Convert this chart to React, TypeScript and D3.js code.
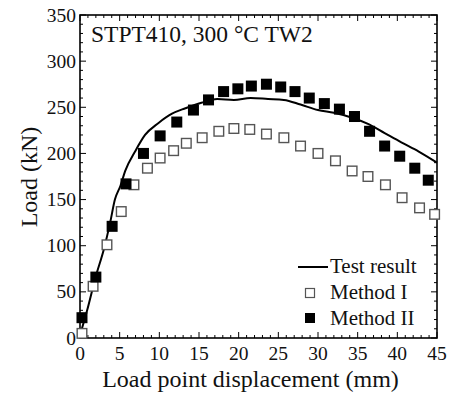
import React from "react";
import * as d3 from "d3";

const testX = [0, 0.9, 2.0, 3.0, 3.8, 4.4, 5.1, 5.7, 7.0, 8.2, 9.9, 11.6, 13.3, 15.3, 17.3, 19.4, 21.5, 23.7, 25.7, 27.8, 30.0, 32.0, 34.2, 36.3, 38.4, 40.5, 42.7, 45];
const testY = [3, 30, 67, 96, 125, 150, 165, 181, 203, 220, 233, 243, 249, 255, 259, 258, 260, 259, 258, 253, 247, 244, 239, 232, 222, 212, 202, 190];

const m1X = [0.25, 1.65, 3.4, 5.2, 6.8, 8.5, 10.1, 11.8, 13.4, 15.4, 17.5, 19.4, 21.4, 23.5, 25.7, 27.8, 30.0, 32.2, 34.3, 36.3, 38.5, 40.6, 42.8, 44.7];
const m1Y = [5, 56, 101, 137, 166, 184, 195, 203, 211, 217, 224, 227, 226, 221, 217, 208, 200, 192, 181, 175, 166, 152, 141, 134];

const m2X = [0.25, 2.0, 4.05, 5.8, 8.0, 10.1, 12.2, 14.3, 16.2, 18.1, 19.9, 21.6, 23.5, 25.3, 27.1, 28.9, 30.8, 32.7, 34.6, 36.5, 38.4, 40.3, 42.2, 43.9];
const m2Y = [22, 66, 121, 167, 200, 219, 234, 247, 258, 267, 270, 273, 275, 272, 267, 260, 254, 248, 240, 224, 208, 197, 184, 171];

const xTicks = [0, 5, 10, 15, 20, 25, 30, 35, 40, 45];
const yTicks = [0, 50, 100, 150, 200, 250, 300, 350];

const title = "STPT410, 300 °C TW2";
const xLabel = "Load point displacement (mm)";
const yLabel = "Load (kN)";
const legendLabels = ["Test result", "Method I", "Method II"];

export default function App() {
  const W = 454, H = 396;
  const L = 80, R = 437, T = 15, B = 338;
  const x = d3.scaleLinear().domain([0, 45]).range([L, R]);
  const y = d3.scaleLinear().domain([0, 350]).range([B, T]);
  const font = '"Liberation Serif", "DejaVu Serif", serif';

  const line = d3
    .line<number>()
    .x((_, i) => x(testX[i]))
    .y((_, i) => y(testY[i]))
    .curve(d3.curveMonotoneX);

  const xMinor = d3.range(0, 46, 1);
  const yMinor = d3.range(0, 351, 10);
  const S = 11;

  return (
    <svg width={W} height={H} style={{ position: "absolute", left: 0, top: 0, fontFamily: font }}>
      <rect x={0} y={0} width={W} height={H} fill="#fff" />
      {xMinor.map((v) => {
        const len = v % 5 === 0 ? 6 : 3;
        return (
          <g key={"xm" + v}>
            <line x1={x(v)} x2={x(v)} y1={B} y2={B - len} stroke="#000" strokeWidth={1} />
            <line x1={x(v)} x2={x(v)} y1={T} y2={T + len} stroke="#000" strokeWidth={1} />
          </g>
        );
      })}
      {yMinor.map((v) => {
        const len = v % 50 === 0 ? 6 : 3;
        return (
          <g key={"ym" + v}>
            <line x1={L} x2={L + len} y1={y(v)} y2={y(v)} stroke="#000" strokeWidth={1} />
            <line x1={R} x2={R - len} y1={y(v)} y2={y(v)} stroke="#000" strokeWidth={1} />
          </g>
        );
      })}
      <rect x={L} y={T} width={R - L} height={B - T} fill="none" stroke="#000" strokeWidth={1.6} />

      <g style={{ fontFamily: font }} fill="#111">
        {xTicks.map((v) => (
          <text key={"xt" + v} x={x(v)} y={360} textAnchor="middle" fontSize={19.5}>
            {v}
          </text>
        ))}
        {yTicks.map((v) => (
          <text key={"yt" + v} x={L - 4} y={y(v) + 6.5} textAnchor="end" fontSize={19.5}>
            {v}
          </text>
        ))}

        <text x={(L + R) / 2 - 8} y={387} textAnchor="middle" fontSize={24}>
          {xLabel}
        </text>
        <text transform={`translate(37,177) rotate(-90)`} textAnchor="middle" fontSize={24}>
          {yLabel}
        </text>

        <text x={91} y={42} fontSize={23.5}>
          {title}
        </text>
      </g>

      <path d={line(testX) || ""} fill="none" stroke="#000" strokeWidth={2} />

      {m1X.map((v, i) => (
        <rect key={"m1" + i} x={x(v) - S / 2 + 0.7} y={y(m1Y[i]) - S / 2 + 0.7} width={S - 1.4} height={S - 1.4} fill="#fff" stroke="#555" strokeWidth={1.4} />
      ))}
      {m2X.map((v, i) => (
        <rect key={"m2" + i} x={x(v) - S / 2} y={y(m2Y[i]) - S / 2} width={S} height={S} fill="#000" />
      ))}

      <line x1={298} x2={328} y1={267} y2={267} stroke="#000" strokeWidth={2} />
      <rect x={310 - 4.5} y={293 - 4.5} width={9} height={9} fill="#fff" stroke="#555" strokeWidth={1.2} />
      <rect x={310 - 5} y={318 - 5} width={10} height={10} fill="#000" />
      <g style={{ fontFamily: font }} fontSize={21} fill="#111">
        <text x={330} y={273}>{legendLabels[0]}</text>
        <text x={330} y={299}>{legendLabels[1]}</text>
        <text x={330} y={325}>{legendLabels[2]}</text>
      </g>
    </svg>
  );
}
